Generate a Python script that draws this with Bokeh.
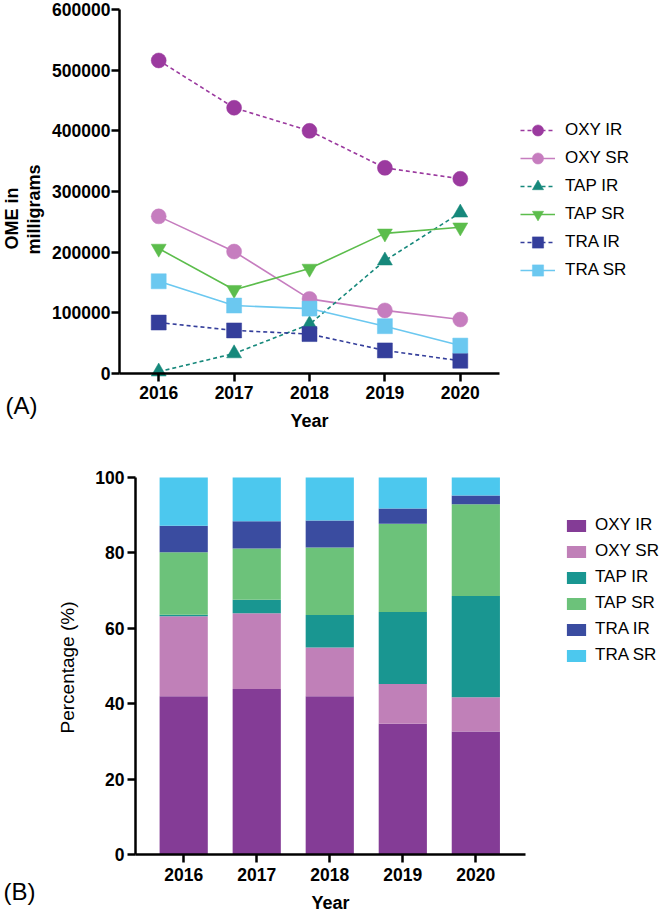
import math
from bokeh.plotting import figure
from bokeh.models import (FixedTicker, Legend, LegendItem, Range1d, Label,
                          BasicTickFormatter, ColumnDataSource)
from bokeh.layouts import column
from bokeh.embed import file_html
from bokeh.resources import INLINE

years = [2016, 2017, 2018, 2019, 2020]
series = ["OXY IR", "OXY SR", "TAP IR", "TAP SR", "TRA IR", "TRA SR"]

# Panel A: OME in milligrams
oxy_ir = [516000, 438000, 400000, 339000, 321000]
oxy_sr = [259000, 201000, 123000, 104000, 89000]
tap_ir = [3000, 33000, 81000, 186000, 265000]
tap_sr = [206000, 138000, 173000, 231000, 241000]
tra_ir = [84000, 71000, 65000, 38000, 21000]
tra_sr = [152000, 112000, 107000, 78000, 46000]

# Panel B: percentage share
pct_oxy_ir = [42.0, 43.9, 42.0, 34.7, 32.6]
pct_oxy_sr = [21.2, 20.1, 12.9, 10.5, 9.1]
pct_tap_ir = [0.4, 3.6, 8.6, 19.1, 26.9]
pct_tap_sr = [16.6, 13.6, 17.9, 23.4, 24.3]
pct_tra_ir = [7.0, 7.2, 7.2, 4.1, 2.3]
pct_tra_sr = [12.8, 11.6, 11.4, 8.2, 4.8]

y_ticks_a = [0, 100000, 200000, 300000, 400000, 500000, 600000]
y_ticks_b = [0, 20, 40, 60, 80, 100]

FONT = "Liberation Sans"

line_colors = ["#9b3a9f", "#c67dbf", "#16887b", "#5cbd4c", "#343e9b", "#6bc8f0"]
markers = ["circle", "circle", "triangle", "inverted_triangle", "square", "square"]
dashes = ["4 3", "solid", "4 3", "solid", "4 3", "solid"]
bar_colors = ["#843c96", "#c080b8", "#199691", "#6cc27a", "#3a4ca0", "#4cc8ee"]


def make_fig(W, H, box, xr, yr, yticks):
    """Figure whose frame fills the canvas; axes sit at the data box edges."""
    l, r, t, b = box
    sx = (xr[1] - xr[0]) / (r - l)
    sy = (yr[1] - yr[0]) / (b - t)
    p = figure(width=W, height=H,
               x_range=Range1d(xr[0] - l * sx, xr[1] + (W - r) * sx),
               y_range=Range1d(yr[0] - (H - b) * sy, yr[1] + t * sy),
               output_backend="svg", toolbar_location=None, min_border=0)
    p.xaxis.fixed_location = yr[0]
    p.xaxis.bounds = xr
    p.yaxis.fixed_location = xr[0]
    p.yaxis.bounds = yr
    for ax in (p.xaxis[0], p.yaxis[0]):
        ax.axis_line_width = 2.5
        ax.axis_line_color = "black"
        ax.major_tick_line_width = 2.5
        ax.major_tick_line_color = "black"
        ax.major_tick_out = 8
        ax.major_tick_in = 0
        ax.minor_tick_line_color = None
        ax.major_label_text_font = FONT
        ax.major_label_text_font_style = "bold"
        ax.major_label_text_font_size = "17.5px"
        ax.major_label_text_color = "black"
    p.xaxis[0].ticker = FixedTicker(ticks=years)
    p.yaxis[0].ticker = FixedTicker(ticks=yticks)
    p.xgrid.grid_line_color = None
    p.ygrid.grid_line_color = None
    p.outline_line_color = None

    def to_data(px, py):
        return xr[0] + (px - l) * sx, yr[0] + (b - py) * sy
    return p, to_data


def add_text(p, to_data, px, py, text, size, style="normal", angle=0.0,
             align="center"):
    x, y = to_data(px, py)
    p.add_layout(Label(x=x, y=y, text=text, text_font=FONT, text_font_size=size,
                       text_font_style=style, text_align=align,
                       text_baseline="middle", angle=angle, text_color="black"))


# ---------------- Panel A ----------------
WA, HA = 661, 450
pA, dA = make_fig(WA, HA, (119, 499, 9, 373), (2015.48, 2020.52), (0, 600000),
                  y_ticks_a)
pA.yaxis[0].formatter = BasicTickFormatter(use_scientific=False)
pA.xaxis.major_label_standoff = 4
pA.yaxis.major_label_standoff = 1

vals_a = [oxy_ir, oxy_sr, tap_ir, tap_sr, tra_ir, tra_sr]
items_a = []
for name, vals, col, mk, dsh in zip(series, vals_a, line_colors, markers, dashes):
    src = ColumnDataSource(dict(x=years, y=vals))
    lr = pA.line("x", "y", source=src, line_color=col, line_width=1.6, line_dash=dsh)
    sr = pA.scatter("x", "y", source=src, marker=mk, size=15, fill_color=col,
                    line_color=col, line_width=0.5)
    items_a.append(LegendItem(label=name, renderers=[lr, sr]))

legA = Legend(items=items_a, location=(520, HA - 284), glyph_width=35,
              glyph_height=28, label_height=28, spacing=0, padding=0, margin=0,
              label_standoff=10, border_line_color=None, background_fill_alpha=0,
              label_text_font=FONT, label_text_font_size="17px",
              label_text_color="black")
pA.add_layout(legA, "center")

add_text(pA, dA, 11, 218, "OME in", "18px", "bold", math.pi / 2)
add_text(pA, dA, 33, 209, "milligrams", "18px", "bold", math.pi / 2)
add_text(pA, dA, 309, 420, "Year", "18px", "bold")
add_text(pA, dA, 5, 405, "(A)", "24px", "normal", align="left")

# ---------------- Panel B ----------------
WB, HB = 661, 463
OFF = 450
pB, dB = make_fig(WB, HB, (135, 525, 477 - OFF, 854 - OFF), (2015.34, 2020.68),
                  (0, 100), y_ticks_b)
pB.xaxis.major_label_standoff = 5
pB.yaxis.major_label_standoff = 3

keys = ["oxy_ir", "oxy_sr", "tap_ir", "tap_sr", "tra_ir", "tra_sr"]
srcB = ColumnDataSource(dict(year=years, oxy_ir=pct_oxy_ir, oxy_sr=pct_oxy_sr,
                             tap_ir=pct_tap_ir, tap_sr=pct_tap_sr,
                             tra_ir=pct_tra_ir, tra_sr=pct_tra_sr))
bars = pB.vbar_stack(keys, x="year", width=0.66, color=bar_colors, source=srcB,
                     line_width=0)
items_b = [LegendItem(label=n, renderers=[r]) for n, r in zip(series, bars)]
legB = Legend(items=items_b, location=(564, HB - (665 - OFF)), glyph_width=24,
              glyph_height=15, label_height=20, spacing=6, padding=0, margin=0,
              label_standoff=7, border_line_color=None, background_fill_alpha=0,
              label_text_font=FONT, label_text_font_size="17px",
              label_text_color="black")
pB.add_layout(legB, "center")

add_text(pB, dB, 67, 667 - OFF, "Percentage (%)", "19px", "normal", math.pi / 2)
add_text(pB, dB, 330, 902 - OFF, "Year", "18px", "bold")
add_text(pB, dB, 3, 891 - OFF, "(B)", "24px", "normal", align="left")

layout = column(pA, pB, spacing=0)
open("out.html", "w").write(file_html(layout, INLINE))
